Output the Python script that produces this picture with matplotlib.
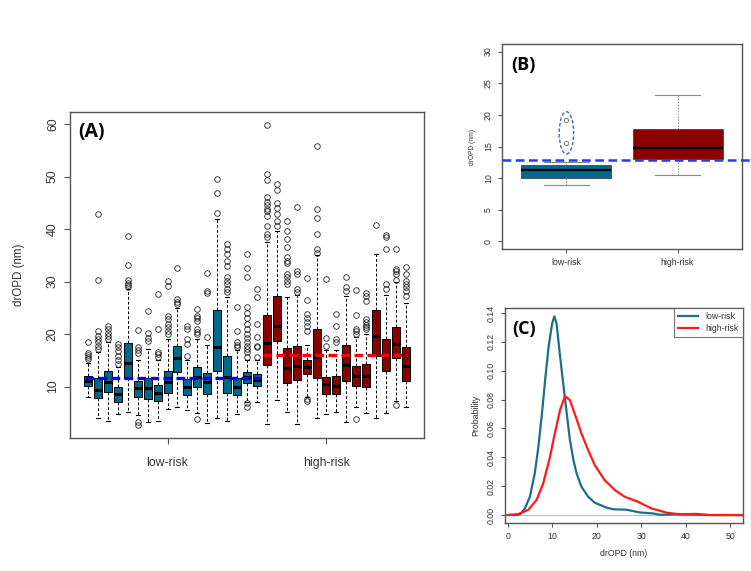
import matplotlib.pyplot as plt
from matplotlib.patches import Ellipse

plt.rcParams['font.family'] = ['Liberation Sans', 'DejaVu Sans']

# ---- (A) per-patient box stats: 18 low-risk, 15 high-risk
q1 = [10.05, 7.8, 8.9, 7.1, 11.6, 8.0, 7.6, 7.3, 8.7, 12.8, 8.3, 9.9, 8.6, 13.0, 8.8, 8.3, 10.6, 10.2,
      14.2, 18.6, 10.6, 11.3, 12.4, 11.6, 8.5, 8.5, 11.1, 10.2, 9.9, 15.9, 13.0, 15.4, 11.1]
med = [11.0, 9.4, 10.9, 8.6, 14.5, 9.8, 9.7, 8.8, 10.8, 15.4, 10.0, 11.9, 10.8, 17.5, 11.8, 9.9, 11.8, 11.3,
       18.3, 21.5, 13.5, 14.0, 13.8, 15.7, 10.4, 10.2, 14.1, 12.1, 12.1, 19.6, 15.8, 18.1, 14.0]
q3 = [12.1, 11.6, 13.0, 10.0, 18.3, 11.1, 11.6, 10.3, 13.0, 17.8, 11.4, 13.8, 12.6, 24.6, 15.8, 11.6, 12.8, 12.4,
      23.6, 27.3, 17.3, 17.8, 15.1, 20.9, 11.9, 12.1, 17.9, 14.0, 14.3, 24.6, 19.1, 21.3, 17.5]
wlo = [8.0, 4.0, 3.4, 4.8, 5.2, 4.5, 3.2, 3.4, 5.7, 6.1, 5.6, 5.0, 3.1, 4.0, 3.4, 4.8, 7.0, 7.0,
       2.8, 7.5, 5.2, 2.8, 8.0, 4.0, 4.7, 5.2, 3.3, 6.2, 4.9, 4.0, 5.0, 7.2, 6.1]
whi = [14.5, 16.5, 18.5, 13.8, 28.5, 15.0, 17.2, 15.0, 19.0, 25.0, 15.0, 19.0, 18.0, 41.9, 27.0, 17.0, 15.0, 15.0,
       37.6, 39.6, 27.0, 27.5, 18.0, 35.0, 17.0, 17.0, 27.3, 19.5, 20.0, 35.2, 27.5, 30.0, 26.0]
fliers = [
    [18.4, 16.4, 16.0, 15.6, 15.3],
    [42.9, 30.3, 20.6, 19.7, 19.1, 18.4, 17.8, 17.2],
    [21.6, 20.9, 20.3, 19.7, 19.1],
    [18.1, 17.5, 16.7, 15.9, 15.1, 14.3],
    [38.6, 33.2, 30.3, 29.8, 29.4, 28.9],
    [20.8, 17.5, 17.0, 16.3, 3.2, 2.6],
    [24.4, 20.2, 19.2, 18.7],
    [27.6, 20.9, 16.5, 16.2, 15.6],
    [30.1, 29.2, 23.5, 22.8, 22.0, 21.3, 20.6, 20.0],
    [32.5, 26.7, 26.2, 25.7],
    [21.6, 20.9, 19.1, 18.1, 15.9],
    [24.8, 23.5, 23.0, 22.5, 20.9, 20.4, 20.0, 3.8],
    [31.7, 28.2, 27.9, 19.4],
    [49.5, 46.9, 43.0],
    [37.1, 36.2, 35.2, 33.9, 33.0, 30.8, 30.1, 29.5, 28.6, 28.0],
    [25.1, 20.6, 18.4, 17.9, 17.5],
    [35.2, 32.5, 30.8, 25.1, 24.0, 23.0, 22.0, 21.0, 20.0, 19.2, 18.5, 17.8, 17.2, 16.5, 15.6, 6.8, 6.2],
    [28.6, 27.1, 21.9, 19.4, 17.8, 17.5, 15.6],
    [59.8, 50.5, 49.3, 46.1, 45.2, 44.5, 43.9, 43.4, 42.5, 40.6, 39.0, 38.5],
    [48.6, 47.4, 45.0, 44.1, 42.8, 41.6, 40.6],
    [41.6, 39.6, 38.1, 36.5, 34.6, 34.0, 33.6, 31.4, 30.8, 30.2, 29.5],
    [44.2, 32.0, 31.4, 28.6, 28.1],
    [30.6, 26.5, 23.8, 23.0, 22.3, 21.5, 20.6, 7.6, 7.3],
    [55.9, 43.9, 42.1, 39.0, 36.2, 35.5],
    [30.5, 19.2, 17.8],
    [23.9, 21.6, 19.1, 18.4],
    [30.8, 28.9, 28.2],
    [28.4, 23.6, 20.9, 20.6, 20.0, 3.8],
    [27.9, 27.3, 26.3, 22.8, 22.3, 21.8, 21.3, 20.9],
    [40.7],
    [38.9, 38.4, 36.2, 29.5, 28.6],
    [36.2, 32.4, 32.0, 31.5, 30.3, 6.4],
    [32.8, 31.5, 30.1, 29.5, 28.9, 28.2, 27.3],
]
n_low, n_high = 18, 15
thr_low, thr_high = 11.7, 16.1
groups = ['low-risk', 'high-risk']

# ---- (B) pooled box stats
b_q1 = [10.0, 13.1]
b_med = [11.25, 14.8]
b_q3 = [12.05, 17.7]
b_wlo = [8.9, 10.45]
b_whi = [12.6, 23.2]
b_fliers = [[15.5, 19.2], []]
b_thr = 12.85

# ---- (C) density curves
low_x = [0.0, 2.0, 2.8, 3.9, 5.0, 6.1, 6.9, 7.7, 8.5, 9.2, 10.0, 10.5, 11.0, 11.8, 12.5, 13.3, 14.0, 14.8,
         15.5, 16.6, 18.1, 19.6, 20.4, 22.2, 23.7, 26.7, 29.7, 32.7, 34.2, 38.7, 45.0, 53.0]
low_y = [0.0, 0.0, 0.0005, 0.0046, 0.0127, 0.0289, 0.047, 0.070, 0.0957, 0.1165, 0.1327, 0.1377, 0.1327,
         0.1096, 0.091, 0.070, 0.052, 0.038, 0.0289, 0.0196, 0.0127, 0.0085, 0.0075, 0.0052, 0.0040, 0.0037,
         0.0018, 0.0011, 0.0002, 0.0005, 0.0, 0.0]
high_x = [0.0, 2.4, 4.6, 6.5, 8.0, 9.5, 10.6, 11.8, 12.9, 14.0, 15.1, 16.6, 18.1, 19.6, 21.8, 24.1, 26.3,
          29.3, 32.3, 35.8, 38.7, 42.4, 45.4, 53.0]
high_y = [0.0, 0.0007, 0.0035, 0.0104, 0.022, 0.040, 0.0565, 0.073, 0.0824, 0.0796, 0.070, 0.0565, 0.045,
          0.0345, 0.0242, 0.0173, 0.0127, 0.0092, 0.0046, 0.0016, 0.0005, 0.0008, 0.0, 0.0]

teal = '#00688B'
dred = '#8B0000'
fg = '#333333'
frame = '#555555'

fig = plt.figure(figsize=(7.51, 5.71), dpi=100)


def style(ax, fs, tl):
    for s in ax.spines.values():
        s.set_color(frame)
        s.set_linewidth(1.0)
    ax.tick_params(colors=frame, labelcolor=fg, labelsize=fs, length=tl, width=0.8)


def stats(q1s, meds, q3s, los, his, fl):
    return [dict(q1=a, med=b, q3=c, whislo=d, whishi=e, fliers=f)
            for a, b, c, d, e, f in zip(q1s, meds, q3s, los, his, fl)]


# ---------------- (A)
axA = fig.add_axes([0.0932, 0.2329, 0.4714, 0.5709])
n = n_low + n_high
colors = [teal] * n_low + [dred] * n_high
bp = axA.bxp(stats(q1, med, q3, wlo, whi, fliers), positions=range(1, n + 1), widths=0.8,
             patch_artist=True, capwidths=0.4,
             boxprops=dict(edgecolor='black', linewidth=0.7),
             medianprops=dict(color='black', linewidth=2.2),
             whiskerprops=dict(color='black', linewidth=0.7, linestyle=(0, (3, 2))),
             capprops=dict(color='black', linewidth=0.8),
             flierprops=dict(marker='o', markerfacecolor='none', markeredgecolor='#222222',
                             markersize=4.0, markeredgewidth=0.6))
for patch, c in zip(bp['boxes'], colors):
    patch.set_facecolor(c)
axA.hlines(thr_low, 0.7, n_low + 0.4, colors='blue', linewidth=2.4, linestyles=(0, (2.6, 1.3)), zorder=5)
axA.hlines(thr_high, n_low + 0.6, n + 0.1, colors='red', linewidth=2.4, linestyles=(0, (2.6, 1.3)), zorder=5)
axA.set_xlim(-0.82, n + 1.82)
axA.set_ylim(0.2, 62.3)
axA.set_yticks([10, 20, 30, 40, 50, 60])
axA.set_yticklabels(['10', '20', '30', '40', '50', '60'], rotation=90, va='center')
axA.set_xticks([9, 25])
axA.set_xticklabels(groups)
axA.tick_params(axis='x', pad=9)
style(axA, 8.8, 4.5)
axA.set_ylabel('drOPD (nm)', fontsize=8.3, color=fg, labelpad=16)
axA.text(0.023, 0.968, '(A)', transform=axA.transAxes, fontsize=14, fontweight='bold',
         va='top', ha='left', family=['Open Sans', 'DejaVu Sans'])

# ---------------- (B)
axB = fig.add_axes([0.6684, 0.5639, 0.3196, 0.3590])
bpB = axB.bxp(stats(b_q1, b_med, b_q3, b_wlo, b_whi, b_fliers), positions=[1, 2], widths=0.81,
              patch_artist=True, capwidths=0.4,
              boxprops=dict(edgecolor='#444444', linewidth=0.6),
              medianprops=dict(color='black', linewidth=1.6),
              whiskerprops=dict(color='#888888', linewidth=0.7, linestyle=(0, (1.5, 1.5))),
              capprops=dict(color='#888888', linewidth=0.8),
              flierprops=dict(marker='o', markerfacecolor='none', markeredgecolor='#666666',
                              markersize=3, markeredgewidth=0.6))
for patch, c in zip(bpB['boxes'], [teal, dred]):
    patch.set_facecolor(c)
axB.plot([0.42, 2.65], [b_thr, b_thr], color='#1f3cff', linewidth=1.8, linestyle=(0, (3.5, 1.8)),
         clip_on=False, zorder=5)
axB.add_patch(Ellipse((1, 17.15), 0.13, 6.7, fill=False, edgecolor='#3a64d8', linewidth=1.0,
                      linestyle=(0, (2.5, 1.5))))
axB.set_xlim(0.42, 2.58)
axB.set_ylim(-1.2, 31.2)
axB.set_yticks([0, 5, 10, 15, 20, 25, 30])
axB.set_yticklabels(['0', '5', '10', '15', '20', '25', '30'], rotation=90, va='center')
axB.set_xticks([1, 2])
axB.set_xticklabels(groups)
style(axB, 6.3, 3)
axB.set_ylabel('drOPD (nm)', fontsize=4.8, color=fg, labelpad=6)
axB.text(0.04, 0.94, '(B)', transform=axB.transAxes, fontsize=13, fontweight='bold',
         va='top', ha='left', family=['Open Sans', 'DejaVu Sans'])

# ---------------- (C)
axC = fig.add_axes([0.6724, 0.0841, 0.3169, 0.3765])
axC.axhline(0, color='#bbbbbb', linewidth=0.8)
axC.plot(low_x, low_y, color='#1a6f90', linewidth=1.6, label='low-risk')
axC.plot(high_x, high_y, color='#ff1a1a', linewidth=1.6, label='high-risk')
axC.set_xlim(-0.6, 52.9)
axC.set_ylim(-0.0055, 0.1435)
axC.set_xticks([0, 10, 20, 30, 40, 50])
axC.set_yticks([0.0, 0.02, 0.04, 0.06, 0.08, 0.10, 0.12, 0.14])
axC.set_yticklabels(['0.00', '0.02', '0.04', '0.06', '0.08', '0.10', '0.12', '0.14'],
                    rotation=90, va='center')
style(axC, 6.3, 3)
axC.set_xlabel('drOPD (nm)', fontsize=6.3, color=fg, labelpad=6)
axC.set_ylabel('Probability', fontsize=6.3, color=fg, labelpad=5)
leg = axC.legend(loc='upper right', fontsize=6.3, frameon=True, fancybox=False, handlelength=2.3,
                 borderaxespad=0, borderpad=0.5, labelspacing=0.3)
leg.get_frame().set_edgecolor(frame)
leg.get_frame().set_linewidth(0.8)
for t in leg.get_texts():
    t.set_color(fg)
axC.text(0.03, 0.945, '(C)', transform=axC.transAxes, fontsize=13, fontweight='bold',
         va='top', ha='left', family=['Open Sans', 'DejaVu Sans'])

fig.savefig('out.png', dpi=100)
